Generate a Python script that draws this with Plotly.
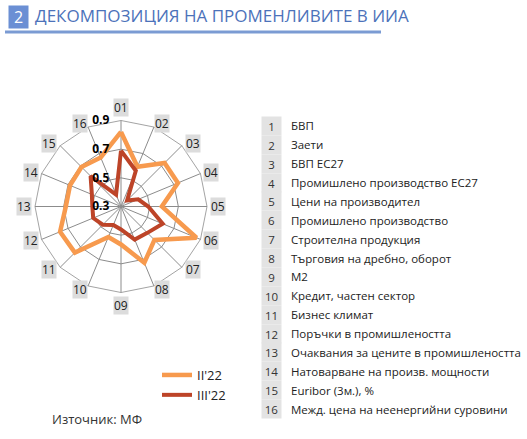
import math
import plotly.graph_objects as go

# axis categories (01..16) and values
categories = ['01', '02', '03', '04', '05', '06', '07', '08',
              '09', '10', '11', '12', '13', '14', '15', '16']
ii_22 = [0.82, 0.60, 0.73, 0.73, 0.585, 0.87, 0.63, 0.725,
         0.565, 0.53, 0.755, 0.76, 0.685, 0.685, 0.69, 0.67]
iii_22 = [0.69, 0.57, 0.36, 0.43, 0.49, 0.615, 0.56, 0.55,
          0.46, 0.44, 0.48, 0.51, 0.50, 0.52, 0.60, 0.39]
radial_ticks = [0.3, 0.5, 0.7, 0.9]
radial_labels = ['0.3', '0.5', '0.7', '0.9']

# legend list on the right
item_names = [
    'БВП', 'Заети', 'БВП ЕС27', 'Промишлено производство ЕС27',
    'Цени на производител', 'Промишлено производство', 'Строителна продукция',
    'Търговия на дребно, оборот', 'М2', 'Кредит, частен сектор', 'Бизнес климат',
    'Поръчки в промишлеността', 'Очаквания за цените в промишлеността',
    'Натоварване на произв. мощности', 'Euribor (3м.), %',
    'Межд. цена на неенергийни суровини',
]

W, H = 527, 439
FONT = 'Open Sans'

# polar chart geometry in pixels
cx, cy, R = 121, 206.5, 86


def px(x):
    return x / W


def py(y):
    return 1 - y / H


fig = go.Figure()
fig.add_trace(go.Scatterpolar(
    r=ii_22 + ii_22[:1], theta=categories + categories[:1],
    mode='lines', name="II'22",
    line=dict(color='#F79A4E', width=4.5),
))
fig.add_trace(go.Scatterpolar(
    r=iii_22 + iii_22[:1], theta=categories + categories[:1],
    mode='lines', name="III'22",
    line=dict(color='#BD4428', width=4),
))

annotations = []

# title
annotations.append(dict(
    x=px(18), y=py(17), xref='paper', yref='paper', text='2',
    showarrow=False, font=dict(family=FONT, size=16, color='white'),
    bgcolor='#6B8FD4', width=17, height=20, xanchor='center', yanchor='middle',
))
annotations.append(dict(
    x=px(33), y=py(16), xref='paper', yref='paper',
    text='ДЕКОМПОЗИЦИЯ НА ПРОМЕНЛИВИТЕ В ИИА',
    showarrow=False, font=dict(family=FONT, size=17, color='#4C72BA'),
    xanchor='left', yanchor='middle',
))

# angular category labels with grey boxes, set just outside each rim vertex
step = 360 / len(categories)
for i, c in enumerate(categories):
    a = math.radians(i * step)
    s, co = math.sin(a), math.cos(a)
    if abs(s) < 1e-6:
        dx, dy = 0, -13 * co
    else:
        dx = math.copysign(8 if abs(co) > 0.9 else 11, s)
        dy = -3.5 * co
    lx = cx + R * s + dx
    ly = cy - R * co + dy
    annotations.append(dict(
        x=px(lx), y=py(ly), xref='paper', yref='paper', text=c,
        showarrow=False, font=dict(family=FONT, size=12, color='#222222'),
        bgcolor='#DCDCDC', borderpad=0, xanchor='center', yanchor='middle',
    ))

# numbered list
for i, name in enumerate(item_names):
    yy = 126 + i * 18.87
    annotations.append(dict(
        x=px(271), y=py(yy), xref='paper', yref='paper', text=str(i + 1),
        showarrow=False, font=dict(family=FONT, size=11.5, color='#333333'),
        bgcolor='#E3E3E3', width=17, height=16, xanchor='center', yanchor='middle',
    ))
    annotations.append(dict(
        x=px(289), y=py(yy), xref='paper', yref='paper', text=name,
        showarrow=False, font=dict(family=FONT, size=11.5, color='#222222'),
        xanchor='left', yanchor='middle',
    ))

# source
annotations.append(dict(
    x=px(50), y=py(419), xref='paper', yref='paper', text='Източник: МФ',
    showarrow=False, font=dict(family=FONT, size=13, color='#333333'),
    xanchor='left', yanchor='middle',
))

# trailing non-breaking spaces push the centred tick labels left of the axis
pad = '\u00a0' * 3

fig.update_layout(
    width=W, height=H,
    margin=dict(l=0, r=0, t=0, b=0),
    paper_bgcolor='white',
    plot_bgcolor='white',
    font=dict(family=FONT, color='#222222'),
    polar=dict(
        domain=dict(x=[px(cx - R), px(cx + R)], y=[py(cy + R), py(cy - R)]),
        bgcolor='white',
        gridshape='linear',
        radialaxis=dict(
            range=[0.3, 0.9], tickvals=radial_ticks,
            ticktext=[t + pad for t in radial_labels],
            angle=90, tickangle=90, side='counterclockwise',
            showline=False, ticks='',
            gridcolor='#8C8C8C', gridwidth=0.8,
            tickfont=dict(family=FONT, size=12, color='black', weight='bold'),
        ),
        angularaxis=dict(
            direction='clockwise', rotation=90,
            showticklabels=False, ticks='',
            linecolor='#8C8C8C', linewidth=0.8,
            gridcolor='#8C8C8C', gridwidth=0.8,
        ),
    ),
    showlegend=True,
    legend=dict(
        x=px(157), y=py(360), xanchor='left', yanchor='top',
        font=dict(family=FONT, size=13, color='#222222'),
        bgcolor='rgba(0,0,0,0)', tracegroupgap=0,
    ),
    shapes=[dict(
        type='line', xref='paper', yref='paper',
        x0=px(5), x1=px(381), y0=py(32), y1=py(32),
        line=dict(color='#7B9BD3', width=3),
    )],
    annotations=annotations,
)

# drop the browser's default page margin so the figure sits at the top-left
fig.write_html('out.html', config={'displayModeBar': False},
               post_script="document.body.style.margin='0';")
